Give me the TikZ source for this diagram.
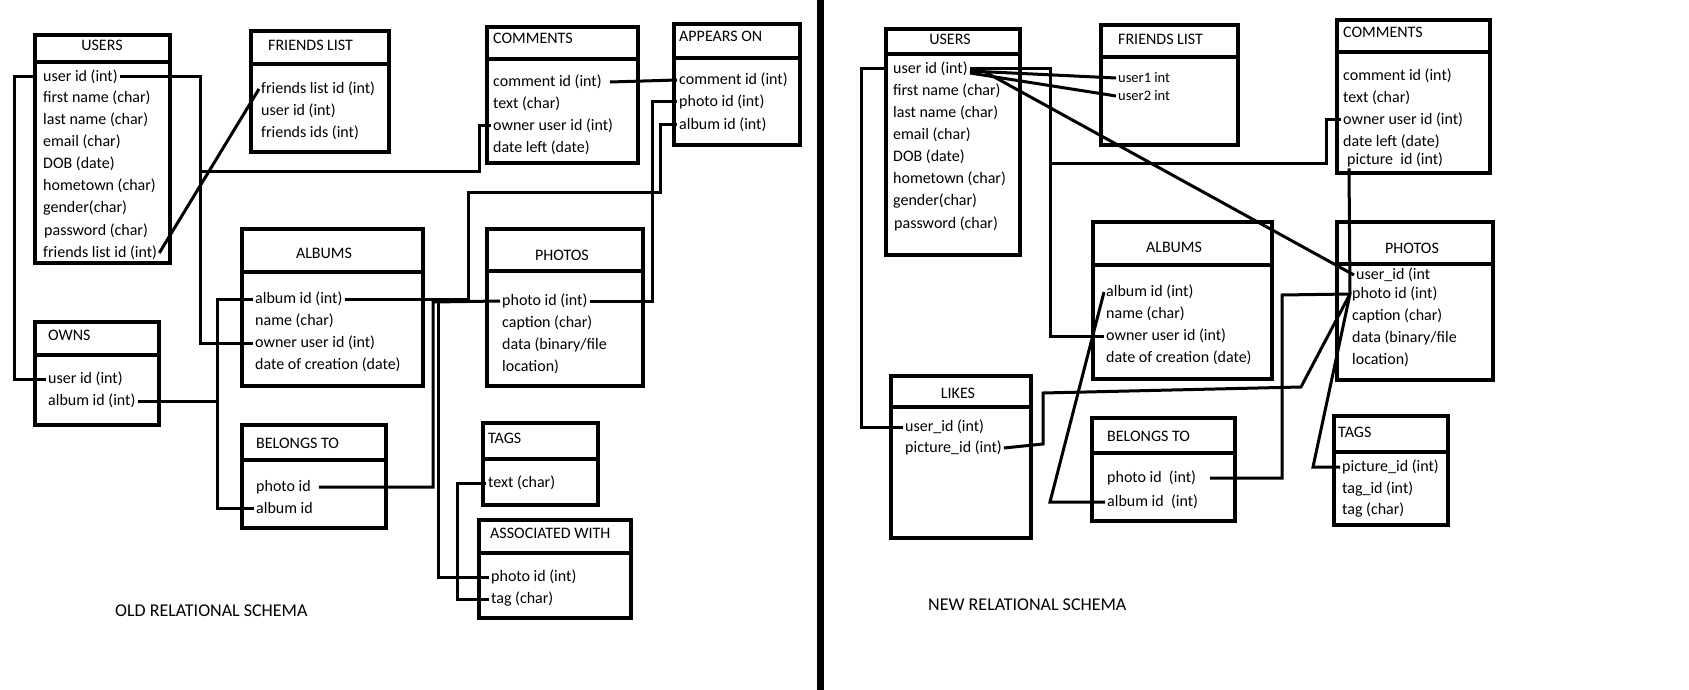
\documentclass[tikz,border=0pt]{standalone}
\usepackage{fontspec}
\setmainfont{Carlito}
\usetikzlibrary{positioning, calc}
\tikzset{
  tblbox/.style={draw, line width=4.5pt, anchor=north west, outer sep=0pt,
    inner sep=0pt},
  tblline/.style={line width=4.5pt},
  tbltitle/.style={anchor=west, inner sep=0pt},
  tblctitle/.style={inner sep=0pt},
  field/.style={anchor=west, inner xsep=2pt, inner ysep=1pt},
  smallfield/.style={anchor=west, inner xsep=2pt, inner ysep=1pt,
    font=\fontsize{14.5}{17}\selectfont},
  relline/.style={line width=3pt},
  schemalabel/.style={anchor=west, inner sep=0pt,
    font=\fontsize{18}{21}\selectfont}
}

\begin{document}
\begin{tikzpicture}[x=1pt, y=-1pt, font=\fontsize{16}{19}\selectfont]
\useasboundingbox (0,0) rectangle (1689,690);

%%% old relational schema

% users
\node [tblbox, minimum width=135, minimum height=228] (ousers) at (35,35) {};
\draw [tblline] ([yshift=-27pt]ousers.north west) -- ([yshift=-27pt]ousers.north east);
\node [tblctitle] (ousersttl) at (102,45) {USERS};
\node [field] (ouid) at (41,77) {user id (int)};
\node [field] (ofname) at (41,98) {first name (char)};
\node [field] (olname) at (41,120) {last name (char)};
\node [field] (oemail) at (41,142) {email (char)};
\node [field] (odob) at (41,164) {DOB (date)};
\node [field] (ohome) at (41,186) {hometown (char)};
\node [field] (ogender) at (41,208) {gender(char)};
\node [field] (opass) at (42,231) {password (char)};
\node [field] (oflid) at (41,253) {friends list id (int)};

% friends list
\node [tblbox, minimum width=138, minimum height=121] (ofriends) at (251,31) {};
\draw [tblline] ([yshift=-33pt]ofriends.north west) -- ([yshift=-33pt]ofriends.north east);
\node [tbltitle] (ofriendsttl) at (268,45) {FRIENDS LIST};
\node [field] (ofl1) at (259,89) {friends list id (int)};
\node [field] (ofl2) at (259,111) {user id (int)};
\node [field] (ofl3) at (259,133) {friends ids (int)};

% comments
\node [tblbox, minimum width=151, minimum height=136] (ocomments) at (487,27) {};
\draw [tblline] ([yshift=-32pt]ocomments.north west) -- ([yshift=-32pt]ocomments.north east);
\node [tbltitle] (ocommentsttl) at (493,38) {COMMENTS};
\node [field] (occid) at (491,82) {comment id (int)};
\node [field] (octext) at (491,104) {text (char)};
\node [field] (ocowner) at (491,126) {owner user id (int)};
\node [field] (ocdate) at (491,148) {date left (date)};

% appears on
\node [tblbox, minimum width=126, minimum height=121] (oappears) at (674,24) {};
\draw [tblline] ([yshift=-34pt]oappears.north west) -- ([yshift=-34pt]oappears.north east);
\node [tbltitle] (oappearsttl) at (679,36) {APPEARS ON};
\node [field] (oaccid) at (677,80) {comment id (int)};
\node [field] (oaphoto) at (677,102) {photo id (int)};
\node [field] (oaalbum) at (677,125) {album id (int)};

% albums
\node [tblbox, minimum width=181, minimum height=157] (oalbums) at (242,229) {};
\draw [tblline] ([yshift=-43pt]oalbums.north west) -- ([yshift=-43pt]oalbums.north east);
\node [tblctitle] (oalbumsttl) at (324,253) {ALBUMS};
\node [field] (oalid) at (253,299) {album id (int)};
\node [field] (oaname) at (253,321) {name (char)};
\node [field] (oaowner) at (253,343) {owner user id (int)};
\node [field] (oadate) at (253,365) {date of creation (date)};

% photos
\node [tblbox, minimum width=156, minimum height=157] (ophotos) at (487,229) {};
\draw [tblline] ([yshift=-42pt]ophotos.north west) -- ([yshift=-42pt]ophotos.north east);
\node [tblctitle] (ophotosttl) at (562,255) {PHOTOS};
\node [field] (opid) at (500,301) {photo id (int)};
\node [field] (opcap) at (500,323) {caption (char)};
\node [field] (opdata) at (500,345) {data (binary/file};
\node [field] (oploc) at (500,367) {location)};

% owns
\node [tblbox, minimum width=124, minimum height=103] (oowns) at (35,322) {};
\draw [tblline] ([yshift=-33pt]oowns.north west) -- ([yshift=-33pt]oowns.north east);
\node [tbltitle] (oownsttl) at (48,335) {OWNS};
\node [field] (owuid) at (46,379) {user id (int)};
\node [field] (owaid) at (46,401) {album id (int)};

% belongs to
\node [tblbox, minimum width=144, minimum height=103] (obelongs) at (242,425) {};
\draw [tblline] ([yshift=-35pt]obelongs.north west) -- ([yshift=-35pt]obelongs.north east);
\node [tbltitle] (obelongsttl) at (256,443) {BELONGS TO};
\node [field] (obpid) at (254,487) {photo id};
\node [field] (obaid) at (254,508) {album id};

% tags
\node [tblbox, minimum width=115, minimum height=82] (otags) at (483,423) {};
\draw [tblline] ([yshift=-36pt]otags.north west) -- ([yshift=-36pt]otags.north east);
\node [tbltitle] (otagsttl) at (488,438) {TAGS};
\node [field] (ottext) at (486,483) {text (char)};

% associated with
\node [tblbox, minimum width=152, minimum height=98] (oassoc) at (479,520) {};
\draw [tblline] ([yshift=-33pt]oassoc.north west) -- ([yshift=-33pt]oassoc.north east);
\node [tbltitle] (oassocttl) at (490,533) {ASSOCIATED WITH};
\node [field] (owpid) at (489,577) {photo id (int)};
\node [field] (owtag) at (489,599) {tag (char)};

\node [schemalabel] (oldlabel) at (115,611) {OLD RELATIONAL SCHEMA};

% old links
\coordinate (obus) at (200,171);
\coordinate (obus2) at (468,192);
\coordinate (ovbus) at (217,299);
\coordinate (ovbus2) at (433,302);
\draw [relline] (ousers.west |- ouid) -- ++(-21,0) |- (owuid.west);
\draw [relline] (ouid.east) -| (obus) |- (oaowner.west);
\draw [relline] (obus) -| ([xshift=-12pt]ocowner.west) -- (ocowner.west);
\draw [relline] (oflid.east) -- (ofl1.west);
\draw [relline] ([xshift=6pt]occid.east) -- (oaccid.west);
\draw [relline] (oaphoto.west) -- ++(-25,0) |- (opid.east);
\draw [relline] (oaalbum.west) -- ++(-17,0) |- (obus2) |- (oalid.east);
\draw [relline] (owaid.east) -- (owaid.east -| ovbus);
\draw [relline] (oalid.west) -- (oalid.west -| ovbus) |- (obaid.west);
\draw [relline] ([xshift=6pt]obpid.east) -| (ovbus2) -- (opid.west);
\draw [relline] ([xshift=5pt]ovbus2) |- (owpid.west);
\draw [relline] (ottext.west) -- ++(-29,0) |- (owtag.west);

% divider
\coordinate (divtop) at (820,0);
\coordinate (divbot) at (820,690);
\draw [line width=7pt] (divtop) -- (divbot);

%%% new relational schema

% users
\node [tblbox, minimum width=134, minimum height=226] (nusers) at (886,29) {};
\draw [tblline] ([yshift=-25pt]nusers.north west) -- ([yshift=-25pt]nusers.north east);
\node [tblctitle] (nusersttl) at (950,39) {USERS};
\node [field] (nuid) at (891,69) {user id (int)};
\node [field] (nfname) at (891,91) {first name (char)};
\node [field] (nlname) at (891,113) {last name (char)};
\node [field] (nemail) at (891,135) {email (char)};
\node [field] (ndob) at (891,157) {DOB (date)};
\node [field] (nhome) at (891,179) {hometown (char)};
\node [field] (ngender) at (891,201) {gender(char)};
\node [field] (npass) at (892,224) {password (char)};

% friends list
\node [tblbox, minimum width=137, minimum height=120] (nfriends) at (1101,25) {};
\draw [tblline] ([yshift=-32pt]nfriends.north west) -- ([yshift=-32pt]nfriends.north east);
\node [tbltitle] (nfriendsttl) at (1118,39) {FRIENDS LIST};
\node [smallfield] (nfu1) at (1116,78) {user1 int};
\node [smallfield] (nfu2) at (1116,96) {user2 int};

% comments
\node [tblbox, minimum width=153, minimum height=153] (ncomments) at (1337,20) {};
\draw [tblline] ([yshift=-32pt]ncomments.north west) -- ([yshift=-32pt]ncomments.north east);
\node [tbltitle] (ncommentsttl) at (1343,32) {COMMENTS};
\node [field] (nccid) at (1341,76) {comment id (int)};
\node [field] (nctext) at (1341,98) {text (char)};
\node [field] (ncowner) at (1341,120) {owner user id (int)};
\node [field] (ncdate) at (1341,142) {date left (date)};
\node [field] (ncpic) at (1345,160) {picture\ \ id (int)};

% albums
\node [tblbox, minimum width=179, minimum height=157] (nalbums) at (1093,222) {};
\draw [tblline] ([yshift=-43pt]nalbums.north west) -- ([yshift=-43pt]nalbums.north east);
\node [tblctitle] (nalbumsttl) at (1174,247) {ALBUMS};
\node [field] (nalid) at (1104,292) {album id (int)};
\node [field] (naname) at (1104,314) {name (char)};
\node [field] (naowner) at (1104,336) {owner user id (int)};
\node [field] (nadate) at (1104,358) {date of creation (date)};

% photos
\node [tblbox, minimum width=156, minimum height=158] (nphotos) at (1337,222) {};
\draw [tblline] ([yshift=-42pt]nphotos.north west) -- ([yshift=-42pt]nphotos.north east);
\node [tblctitle] (nphotosttl) at (1412,248) {PHOTOS};
\node [field] (npuid) at (1354,275) {user\_id (int};
\node [field] (npphoto) at (1350,294) {photo id (int)};
\node [field] (npcap) at (1350,316) {caption (char)};
\node [field] (npdata) at (1350,338) {data (binary/file};
\node [field] (nploc) at (1350,360) {location)};

% likes
\node [tblbox, minimum width=140, minimum height=162] (nlikes) at (891,376) {};
\draw [tblline] ([yshift=-31pt]nlikes.north west) -- ([yshift=-31pt]nlikes.north east);
\node [tblctitle] (nlikesttl) at (958,393) {LIKES};
\node [field] (nkuid) at (903,427) {user\_id (int)};
\node [field] (nkpic) at (903,448) {picture\_id (int)};

% belongs to
\node [tblbox, minimum width=143, minimum height=103] (nbelongs) at (1092,418) {};
\draw [tblline] ([yshift=-35pt]nbelongs.north west) -- ([yshift=-35pt]nbelongs.north east);
\node [tbltitle] (nbelongsttl) at (1107,436) {BELONGS TO};
\node [field] (nbpid) at (1105,478) {photo id\ \ (int)};
\node [field] (nbaid) at (1105,502) {album id\ \ (int)};

% tags
\node [tblbox, minimum width=114, minimum height=109] (ntags) at (1334,416) {};
\draw [tblline] ([yshift=-36pt]ntags.north west) -- ([yshift=-36pt]ntags.north east);
\node [tbltitle] (ntagsttl) at (1338,432) {TAGS};
\node [field] (ntpic) at (1340,467) {picture\_id (int)};
\node [field] (nttid) at (1340,489) {tag\_id (int)};
\node [field] (nttag) at (1340,510) {tag (char)};

\node [schemalabel] (newlabel) at (928,605) {NEW RELATIONAL SCHEMA};

% new links
\coordinate (nbus) at (1050,163);
\coordinate (nvbus) at (1282,295);
\draw [relline] (nusers.west |- nuid) -- ++(-25,0) |- (nkuid.west);
\draw [relline] (nuid.east) -| (nbus) |- (naowner.west);
\draw [relline] (nbus) -| ([xshift=-15pt]ncowner.west) -- (ncowner.west);
\draw [relline] ([yshift=-2pt]nuid.east) -- (nfu1.west);
\draw [relline] ([yshift=-4pt]nuid.east) -- (nfu2.west);
\draw [relline] ([xshift=8pt,yshift=1pt]nuid.east) -- (npuid.west);
\draw [relline] ([xshift=4pt]ncpic.south west) -- (npphoto.west);
\draw [relline] (nkpic.east) -- ++(39,-4) -- ++(0,-51) -- ++(258,-6) -- (npphoto.west);
\draw [relline] (nbaid.west) -- ++(-55,0) -- (nalid.west);
\draw [relline] ([xshift=12pt]nbpid.east) -| (nvbus) -- (npphoto.west);
\draw [relline] (ntpic.west) -- ++(-27,0) -- (npphoto.west);

\end{tikzpicture}
\end{document}
